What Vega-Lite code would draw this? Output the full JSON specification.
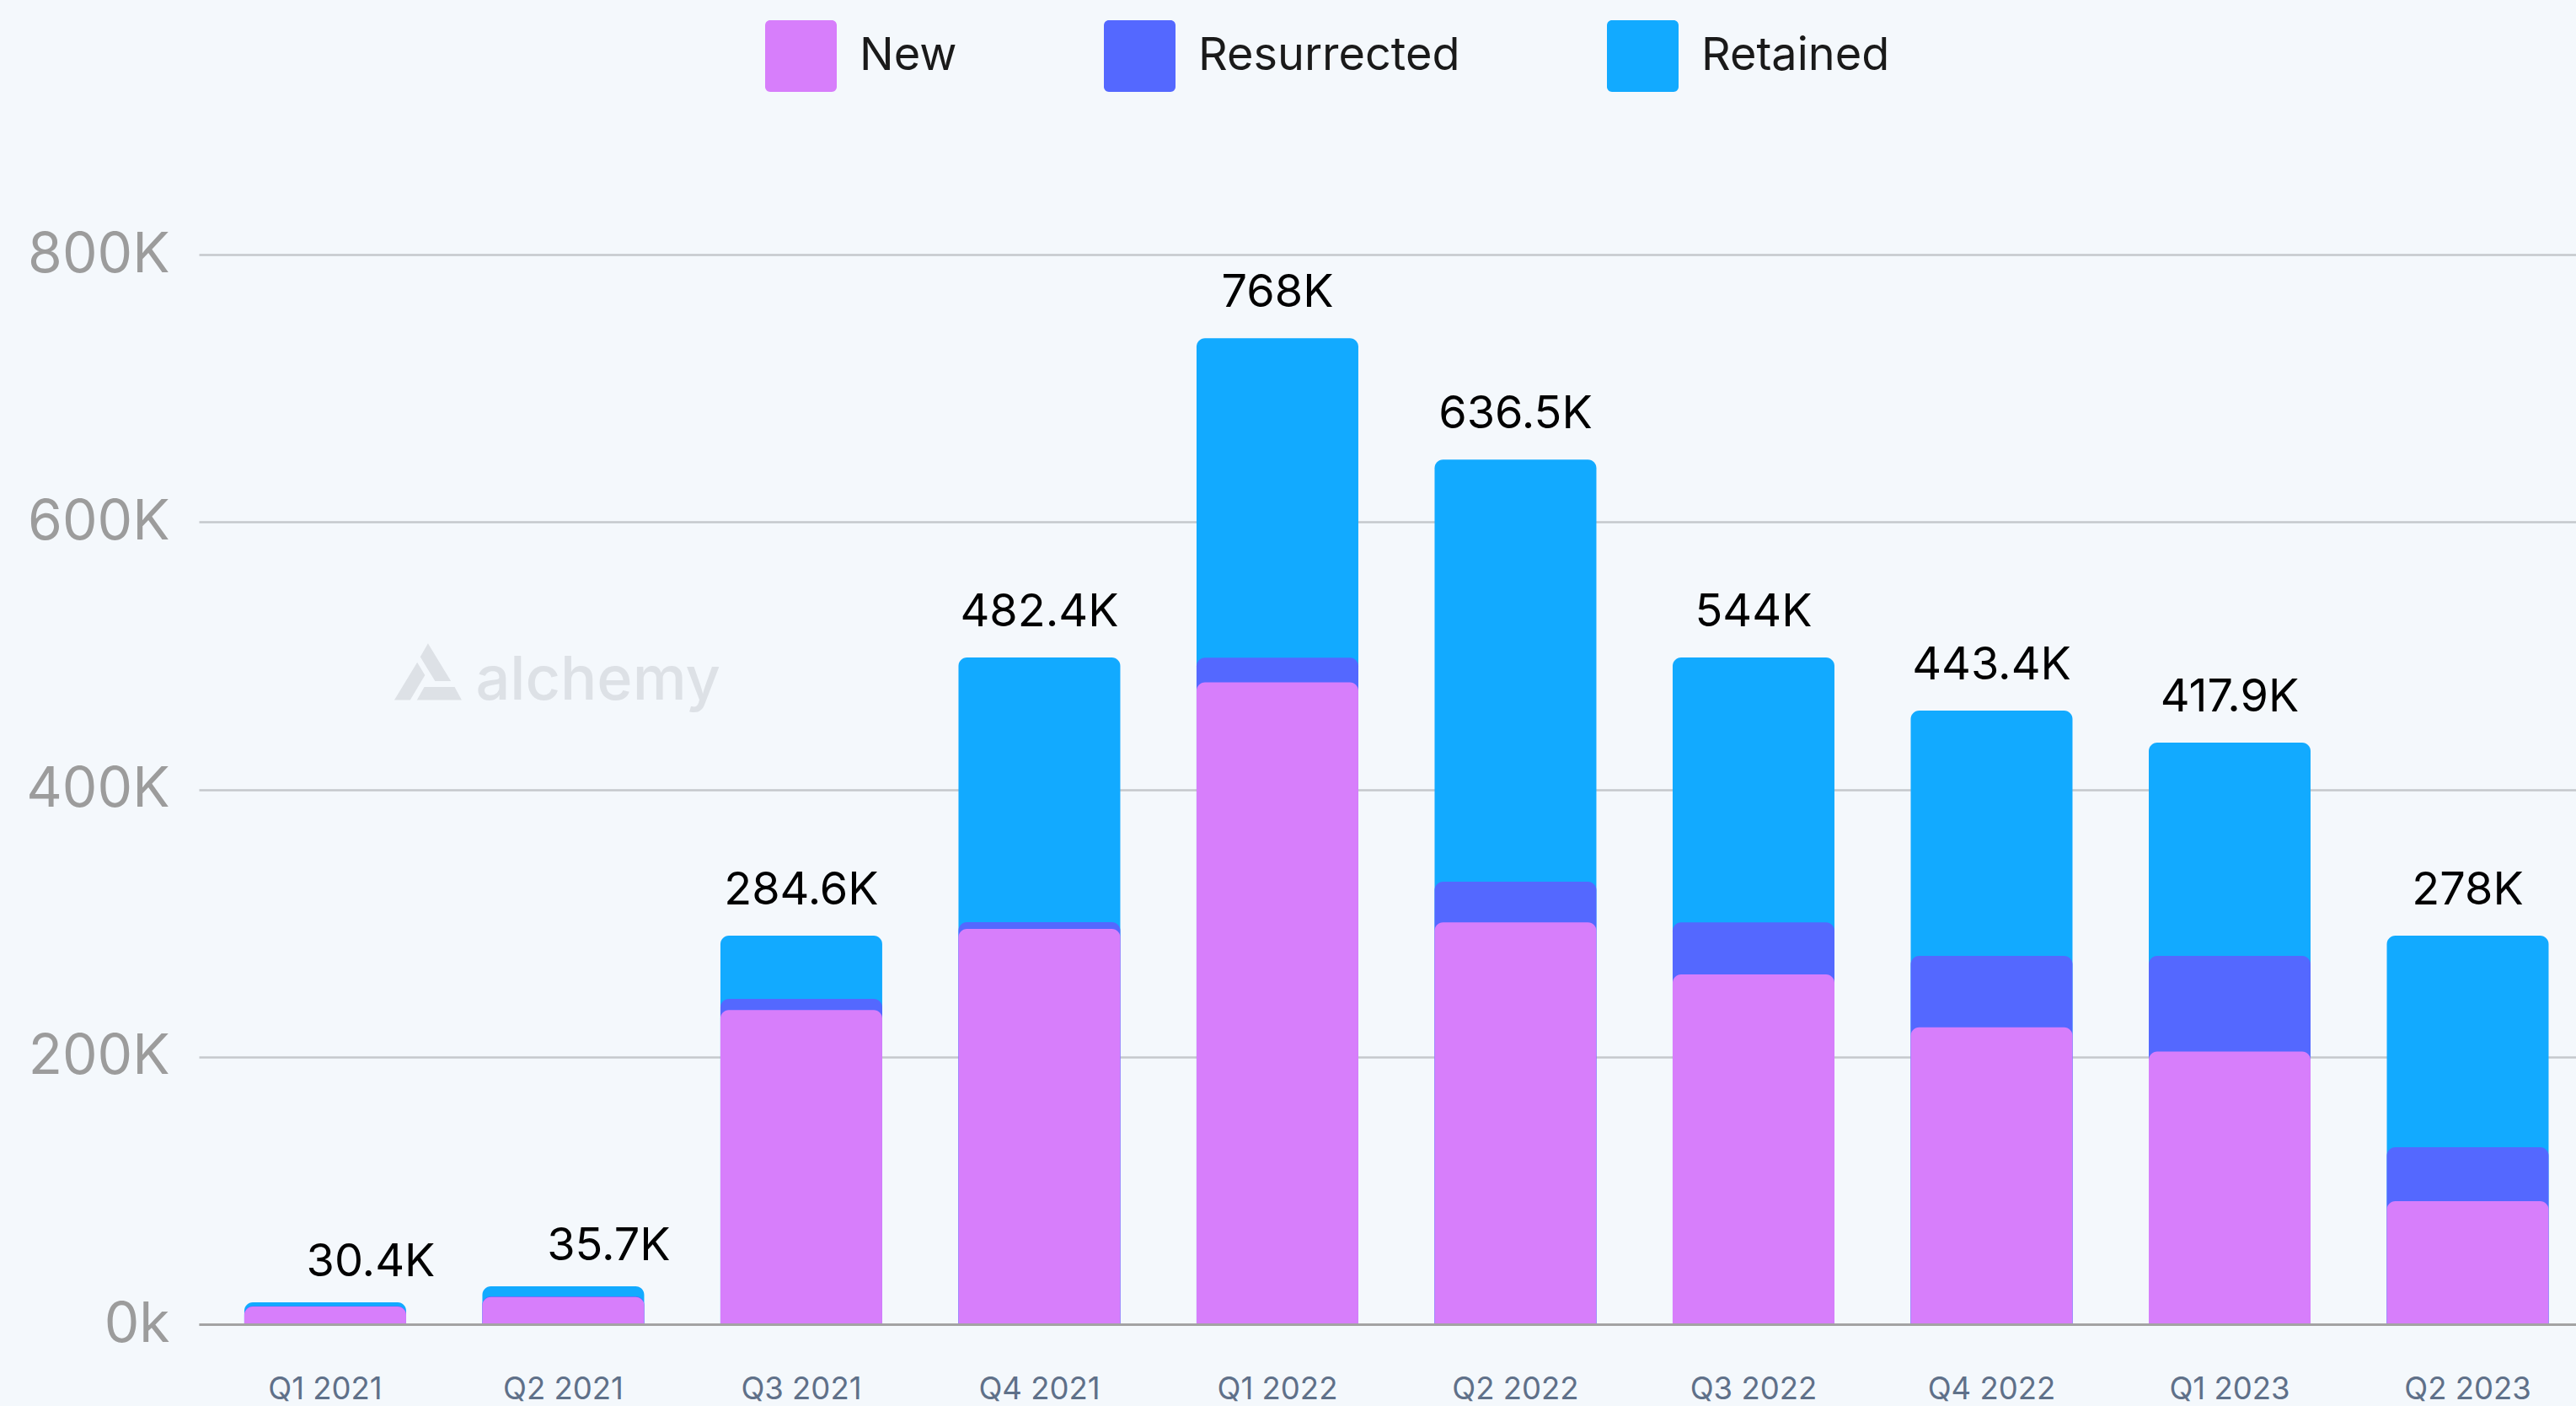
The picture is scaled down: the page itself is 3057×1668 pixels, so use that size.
{
  "$schema": "https://vega.github.io/schema/vega-lite/v6.json",
  "width": 2821,
  "height": 1269,
  "autosize": {"type": "none"},
  "padding": {"left": 236, "top": 302, "right": 0, "bottom": 97},
  "background": "#F4F8FC",
  "config": {
    "view": {"stroke": null},
    "font": "Inter",
    "text": {"font": "Inter"}
  },
  "data": {
    "values": [
      {"quarter": "Q1 2021", "segment": "Retained", "value": 2900, "label": "30.4K"},
      {"quarter": "Q2 2021", "segment": "Retained", "value": 7600, "label": "35.7K"},
      {"quarter": "Q3 2021", "segment": "Retained", "value": 47200, "label": "284.6K"},
      {"quarter": "Q4 2021", "segment": "Retained", "value": 198000, "label": "482.4K"},
      {"quarter": "Q1 2022", "segment": "Retained", "value": 238900, "label": "768K"},
      {"quarter": "Q2 2022", "segment": "Retained", "value": 315700, "label": "636.5K"},
      {"quarter": "Q3 2022", "segment": "Retained", "value": 198100, "label": "544K"},
      {"quarter": "Q4 2022", "segment": "Retained", "value": 183500, "label": "443.4K"},
      {"quarter": "Q1 2023", "segment": "Retained", "value": 159500, "label": "417.9K"},
      {"quarter": "Q2 2023", "segment": "Retained", "value": 158200, "label": "278K"},
      {"quarter": "Q1 2021", "segment": "Resurrected", "value": 300, "label": "30.4K"},
      {"quarter": "Q2 2021", "segment": "Resurrected", "value": 400, "label": "35.7K"},
      {"quarter": "Q3 2021", "segment": "Resurrected", "value": 8400, "label": "284.6K"},
      {"quarter": "Q4 2021", "segment": "Resurrected", "value": 5100, "label": "482.4K"},
      {"quarter": "Q1 2022", "segment": "Resurrected", "value": 18500, "label": "768K"},
      {"quarter": "Q2 2022", "segment": "Resurrected", "value": 30400, "label": "636.5K"},
      {"quarter": "Q3 2022", "segment": "Resurrected", "value": 39000, "label": "544K"},
      {"quarter": "Q4 2022", "segment": "Resurrected", "value": 53500, "label": "443.4K"},
      {"quarter": "Q1 2023", "segment": "Resurrected", "value": 71500, "label": "417.9K"},
      {"quarter": "Q2 2023", "segment": "Resurrected", "value": 40400, "label": "278K"},
      {"quarter": "Q1 2021", "segment": "New", "value": 13200, "label": "30.4K"},
      {"quarter": "Q2 2021", "segment": "New", "value": 20400, "label": "35.7K"},
      {"quarter": "Q3 2021", "segment": "New", "value": 235000, "label": "284.6K"},
      {"quarter": "Q4 2021", "segment": "New", "value": 295600, "label": "482.4K"},
      {"quarter": "Q1 2022", "segment": "New", "value": 480000, "label": "768K"},
      {"quarter": "Q2 2022", "segment": "New", "value": 300600, "label": "636.5K"},
      {"quarter": "Q3 2022", "segment": "New", "value": 261600, "label": "544K"},
      {"quarter": "Q4 2022", "segment": "New", "value": 222000, "label": "443.4K"},
      {"quarter": "Q1 2023", "segment": "New", "value": 204000, "label": "417.9K"},
      {"quarter": "Q2 2023", "segment": "New", "value": 92000, "label": "278K"}
    ]
  },
  "layer": [
    {
      "data": {"values": [{"brand": "alchemy"}]},
      "mark": {
        "type": "point",
        "shape": "M-1,0.84L-0.32,-0.28L-0.09,0.1L-0.53,0.84Z M0,-0.84L0.68,0.28L0.21,0.28L-0.23,-0.44Z M-0.11,0.45L0.79,0.45L1,0.84L-0.33,0.84Z",
        "filled": true,
        "color": "#DDE1E6",
        "opacity": 1,
        "size": 6400,
        "strokeWidth": 0,
        "xOffset": 122
      },
      "encoding": {
        "x": {"datum": "Q1 2021"},
        "y": {"datum": 488000}
      }
    },
    {
      "data": {"values": [{"brand": "alchemy"}]},
      "mark": {
        "type": "text",
        "align": "left",
        "baseline": "alphabetic",
        "dx": -104,
        "fontSize": 72,
        "fontWeight": 500,
        "color": "#DDE1E6"
      },
      "encoding": {
        "x": {"datum": "Q2 2021"},
        "y": {"datum": 467000},
        "text": {"field": "brand"}
      }
    },
    {
      "transform": [
        {"stack": "value", "groupby": ["quarter"], "sort": [{"field": "segment", "order": "ascending"}], "as": ["v0", "v1"]}
      ],
      "mark": {"type": "bar", "cornerRadiusTopLeft": 10, "cornerRadiusTopRight": 10},
      "encoding": {
        "x": {
          "field": "quarter",
          "type": "nominal",
          "sort": ["Q1 2021", "Q2 2021", "Q3 2021", "Q4 2021", "Q1 2022", "Q2 2022", "Q3 2022", "Q4 2022", "Q1 2023", "Q2 2023"],
          "scale": {"paddingInner": 0.3204, "paddingOuter": 0.153, "align": 0.624},
          "axis": {
            "title": null,
            "ticks": false,
            "grid": false,
            "domain": true,
            "domainColor": "#A3A3A3",
            "domainWidth": 3,
            "labelAngle": 0,
            "labelAlign": "center",
            "bandPosition": 0.5,
            "labelFontSize": 36.5,
            "labelColor": "#5F7089",
            "labelPadding": 59,
            "labelBaseline": "top",
            "zindex": 1
          }
        },
        "y": {
          "field": "v1",
          "type": "quantitative",
          "scale": {"domain": [0, 800000], "nice": false, "zero": true},
          "axis": {
            "title": null,
            "values": [0, 200000, 400000, 600000, 800000],
            "labelExpr": "datum.value == 0 ? '0k' : (datum.value / 1000) + 'K'",
            "ticks": false,
            "domain": false,
            "grid": true,
            "gridColor": "#C5C8CC",
            "gridWidth": 2.5,
            "labelFontSize": 66,
            "labelColor": "#9C9C9C",
            "labelPadding": 35
          }
        },
        "y2": {"datum": 0},
        "color": {
          "field": "segment",
          "type": "nominal",
          "scale": {"domain": ["New", "Resurrected", "Retained"], "range": ["#D77EFB", "#5468FF", "#12AAFF"]},
          "legend": {
            "title": null,
            "orient": "none",
            "direction": "horizontal",
            "legendX": 672,
            "legendY": -278,
            "padding": 0,
            "symbolType": "M-0.86,-1H0.86A0.14,0.14 0 0 1 1,-0.86V0.86A0.14,0.14 0 0 1 0.86,1H-0.86A0.14,0.14 0 0 1 -1,0.86V-0.86A0.14,0.14 0 0 1 -0.86,-1Z",
            "symbolSize": 7225,
            "symbolStrokeWidth": 0,
            "symbolOpacity": 1,
            "labelFontSize": 54,
            "labelColor": "#1A1A1A",
            "labelOffset": 27,
            "columnPadding": 174,
            "labelLimit": 600
          }
        },
        "order": {"field": "v1", "type": "quantitative", "sort": "descending"}
      }
    },
    {
      "transform": [
        {"aggregate": [{"op": "sum", "field": "value", "as": "total"}], "groupby": ["quarter", "label"]},
        {"filter": "datum.total > 100000"}
      ],
      "mark": {"type": "text", "baseline": "alphabetic", "dy": -37, "fontSize": 54, "color": "#000000"},
      "encoding": {
        "x": {"field": "quarter", "type": "nominal", "sort": ["Q1 2021", "Q2 2021", "Q3 2021", "Q4 2021", "Q1 2022", "Q2 2022", "Q3 2022", "Q4 2022", "Q1 2023", "Q2 2023"]},
        "y": {"field": "total", "type": "quantitative"},
        "text": {"field": "label"}
      }
    },
    {
      "transform": [
        {"aggregate": [{"op": "sum", "field": "value", "as": "total"}], "groupby": ["quarter", "label"]},
        {"filter": "datum.total <= 100000"}
      ],
      "mark": {"type": "text", "baseline": "alphabetic", "dy": -31, "dx": 54, "fontSize": 54, "color": "#000000"},
      "encoding": {
        "x": {"field": "quarter", "type": "nominal", "sort": ["Q1 2021", "Q2 2021", "Q3 2021", "Q4 2021", "Q1 2022", "Q2 2022", "Q3 2022", "Q4 2022", "Q1 2023", "Q2 2023"]},
        "y": {"field": "total", "type": "quantitative"},
        "text": {"field": "label"}
      }
    }
  ]
}
